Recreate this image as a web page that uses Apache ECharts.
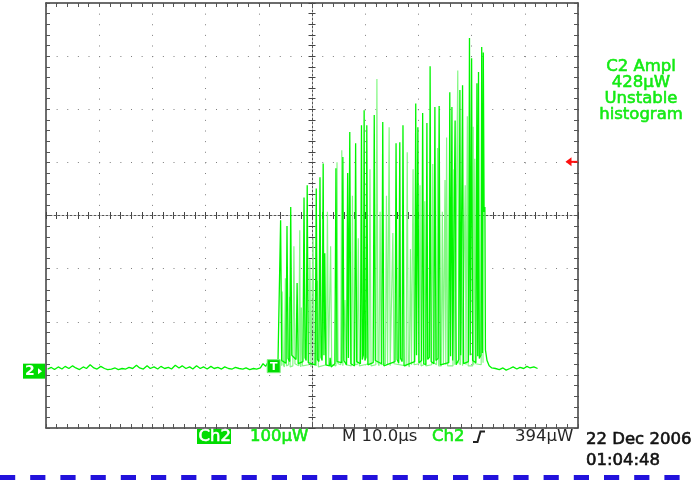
<!DOCTYPE html>
<html><head><meta charset="utf-8">
<script src="https://cdn.jsdelivr.net/npm/echarts@6/dist/echarts.min.js"></script>
<style>html,body{margin:0;padding:0;background:#fff;}#c{width:694px;height:480px;}</style>
</head><body><div id="c"></div>
<script>
// ---- scope settings ----
const timePerDiv = 10;          // µs / div  (M 10.0µs)
const powerPerDiv = 100;        // µW / div  (Ch2 100µW)
const groundOffset = -293;      // ground marker position, in µW from screen centre
const triggerLevel = 394;       // µW
const triggerTime = 42.8;       // µs from left edge
const readoutLines = ['C2 Ampl', '428\u00b5W', 'Unstable', 'histogram'];
const statusItems = ['Ch2', '100\u00b5W', 'M 10.0\u00b5s', 'Ch2', '394\u00b5W'];
const dateLines = ['22 Dec 2006', '01:04:48'];

// ---- trace: [time µs, power µW] ----
const baselineBefore = [[0.3,4],[1.0,7],[1.6,3],[2.3,8],[3.0,4],[3.6,9],[4.3,5],[5.0,10],[5.6,6],[6.3,3],[7.0,8],[7.6,5],[8.3,12],[9.0,6],[9.6,4],[10.3,9],[11.0,5],[11.6,3],[12.3,4],[13.0,6],[13.6,3],[14.3,5],[15.0,4],[15.6,7],[16.3,5],[17.0,11],[17.6,6],[18.3,4],[19.0,10],[19.6,5],[20.3,8],[21.0,4],[21.6,9],[22.3,5],[23.0,7],[23.6,4],[24.3,11],[25.0,6],[25.6,10],[26.3,5],[27.0,8],[27.6,4],[28.3,10],[29.0,5],[29.6,8],[30.3,4],[31.0,9],[31.6,5],[32.3,7],[33.0,4],[33.6,8],[34.3,5],[35.0,4],[35.6,7],[36.3,5],[37.0,4],[37.6,6],[38.3,3],[39.0,5],[39.6,4],[40.3,6],[40.8,14],[41.3,9],[41.8,18],[42.3,12],[43.0,15],[43.6,14]];
const pulsesBright = [[43.9,12],[44.1,284],[44.3,20],[45.1,15],[45.3,273],[45.5,24],[45.8,18],[46.0,309],[46.2,30],[47.0,22],[47.2,166],[47.4,14],[48.3,18],[48.5,327],[48.7,25],[48.9,20],[49.1,350],[49.3,16],[50.6,12],[50.8,344],[51.0,22],[51.3,18],[51.5,365],[51.7,26],[51.9,20],[52.1,391],[52.25,30],[52.4,222],[52.6,12],[53.3,10],[53.4,25],[53.6,8],[54.3,14],[54.5,382],[54.7,18],[55.6,16],[55.8,403],[56.0,20],[56.5,12],[56.7,373],[56.85,25],[57.1,450],[57.3,14],[58.0,10],[58.2,429],[58.4,18],[59.1,14],[59.3,463],[59.45,22],[59.65,30],[59.8,491],[59.95,20],[60.15,26],[60.3,463],[60.5,12],[61.5,16],[61.7,482],[61.9,20],[63.1,14],[63.3,469],[63.5,10],[65.6,18],[65.8,429],[66.0,22],[66.3,15],[66.5,431],[66.65,24],[66.95,18],[67.1,463],[67.3,10],[69.3,18],[69.5,504],[69.65,30],[69.9,459],[70.1,16],[70.6,20],[70.8,486],[71.0,14],[71.4,12],[71.6,467],[71.75,22],[72.05,26],[72.2,574],[72.4,18],[72.9,14],[73.1,497],[73.3,20],[73.7,24],[73.9,499],[74.1,12],[75.7,16],[75.9,525],[76.05,28],[76.3,497],[76.45,20],[76.75,18],[76.9,472],[77.1,12],[77.6,22],[77.8,529],[77.95,30],[78.3,538],[78.5,14],[79.4,18],[79.6,627],[79.75,30],[80.0,589],[80.2,20],[80.8,16],[81.0,542],[81.15,28],[81.3,563],[81.45,24],[81.75,30],[81.9,610],[82.05,34],[82.2,600],[82.35,300],[82.5,309],[82.6,40],[82.9,20],[83.3,10],[83.8,6],[84.5,5]];
const baselineAfter = [[85.2,3],[85.9,6],[86.5,2],[87.2,5],[87.8,8],[88.5,4],[89.1,7],[89.8,5],[90.4,9],[91.0,6],[91.7,8],[92.4,5]];
const pulsesPersist = [[44.3,10],[44.4,150],[44.6,12],[44.8,8],[45.0,175],[45.2,10],[45.6,12],[45.8,140],[45.9,8],[46.4,10],[46.6,235],[46.8,14],[47.5,10],[47.7,265],[47.8,12],[47.9,8],[48.0,120],[48.2,10],[49.4,12],[49.6,210],[49.8,8],[50.0,10],[50.2,250],[50.4,14],[50.8,10],[51.0,170],[51.2,8],[52.7,12],[52.9,300],[53.1,10],[53.3,8],[53.5,235],[53.7,12],[54.5,10],[54.7,393],[54.9,14],[55.4,12],[55.6,416],[55.8,10],[56.0,8],[56.2,134],[56.4,12],[57.4,10],[57.6,330],[57.8,14],[58.5,12],[58.7,250],[58.9,10],[60.7,14],[60.9,380],[61.1,10],[62.0,12],[62.2,550],[62.4,16],[62.6,10],[62.8,300],[63.0,12],[63.8,14],[64.0,330],[64.2,12],[64.3,14],[64.5,459],[64.7,10],[65.0,12],[65.2,260],[65.4,14],[67.7,10],[67.9,412],[68.1,12],[68.3,8],[68.5,230],[68.7,12],[68.8,10],[69.0,380],[69.2,12],[70.1,14],[70.3,350],[70.5,10],[71.0,12],[71.2,320],[71.4,10],[72.5,12],[72.7,390],[72.9,16],[73.4,12],[73.6,420],[73.8,10],[74.3,10],[74.5,300],[74.7,12],[74.8,10],[75.0,360],[75.15,12],[75.2,14],[75.3,440],[75.5,10],[76.5,10],[76.7,380],[76.85,12],[77.2,12],[77.4,566],[77.6,16],[77.9,12],[78.1,300],[78.3,10],[78.6,10],[78.8,350],[78.95,12],[79.0,14],[79.2,480],[79.35,10],[80.2,10],[80.3,460],[80.4,12],[80.45,12],[80.6,400],[80.75,14],[81.8,12],[82.0,450],[82.15,16]];

const toScreen = arr => arr.map(p => [p[0], p[1] + groundOffset]);
const brightTrace = toScreen(baselineBefore.concat(pulsesBright, baselineAfter));
const persistTrace = toScreen(pulsesPersist);

const chart = echarts.init(document.getElementById('c'), null, {renderer: 'canvas'});
const FRAME = '#3c3c3c', TICK = '#555', DOT = '#7e7e7e';
const dotPattern = [1, 9.625];

function xAx(pos, opts) {
  return Object.assign({
    type: 'value', min: 0, max: 10 * timePerDiv, interval: timePerDiv, position: pos,
    axisLine: {show: true, onZero: false, lineStyle: {color: FRAME, width: 1.5}},
    axisTick: {show: true, inside: true, length: 4, lineStyle: {color: TICK}},
    minorTick: {show: true, splitNumber: 5, length: 4, lineStyle: {color: TICK}},
    axisLabel: {show: false}, splitLine: {show: false}, minorSplitLine: {show: false}
  }, opts || {});
}
function yAx(pos, opts) {
  return Object.assign({
    type: 'value', min: -4 * powerPerDiv, max: 4 * powerPerDiv, interval: powerPerDiv, position: pos,
    axisLine: {show: true, onZero: false, lineStyle: {color: FRAME, width: 1.5}},
    axisTick: {show: true, inside: true, length: 4, lineStyle: {color: TICK}},
    minorTick: {show: true, splitNumber: 5, length: 4, lineStyle: {color: TICK}},
    axisLabel: {show: false}, splitLine: {show: false}, minorSplitLine: {show: false}
  }, opts || {});
}
const centreLine = {show: true, onZero: false, lineStyle: {color: '#555', width: 1, type: [2, 2]}};
const noLine = {show: false, onZero: false};
const cTick = {show: true, length: 3.5, lineStyle: {color: '#444'}};

const option = {
  animation: false,
  backgroundColor: '#fff',
  grid: {left: 46, top: 3, width: 532, height: 425, show: false},
  xAxis: [
    xAx('bottom', {splitLine: {show: true, lineStyle: {color: DOT, width: 1, type: dotPattern}}}),
    xAx('top'),
    xAx('bottom', {offset: -212.5, axisLine: centreLine, axisTick: Object.assign({inside: true}, cTick), minorTick: Object.assign({splitNumber: 5}, cTick)}),
    xAx('bottom', {offset: -212.5, axisLine: noLine, axisTick: Object.assign({inside: false}, cTick), minorTick: Object.assign({splitNumber: 5}, cTick)})
  ],
  yAxis: [
    yAx('left', {splitLine: {show: true, lineStyle: {color: DOT, width: 1, type: dotPattern}}}),
    yAx('right'),
    yAx('left', {offset: -266, axisLine: centreLine, axisTick: Object.assign({inside: true}, cTick), minorTick: Object.assign({splitNumber: 5}, cTick)}),
    yAx('left', {offset: -266, axisLine: noLine, axisTick: Object.assign({inside: false}, cTick), minorTick: Object.assign({splitNumber: 5}, cTick)})
  ],
  series: [
    {name: 'persist', type: 'line', xAxisIndex: 0, yAxisIndex: 0, data: persistTrace, symbol: 'none', silent: true,
     lineStyle: {color: '#84f884', width: 1.2}, z: 3},
    {name: 'Ch2', type: 'line', xAxisIndex: 0, yAxisIndex: 0, data: brightTrace, symbol: 'none', silent: true,
     lineStyle: {color: '#00f500', width: 1.3}, z: 4}
  ]
};
chart.setOption(option);

const gY = chart.convertToPixel({yAxisIndex: 0}, groundOffset);
const lvY = chart.convertToPixel({yAxisIndex: 0}, triggerLevel + groundOffset);
const tX = chart.convertToPixel({xAxisIndex: 0}, triggerTime);
const rightX = chart.convertToPixel({xAxisIndex: 0}, 10 * timePerDiv);
const FONT = '16.5px "DejaVu Sans", Verdana, sans-serif';
const GREEN = '#14ea14', BOX = '#00dc00', DARK = '#262626';

function txt(s, x, y, fill, align, font, stroke) {
  return {type: 'text', x: x, y: y, z: 50, silent: true,
    style: {text: s, fill: fill, font: font || FONT, align: align || 'left', textAlign: align || 'left',
      verticalAlign: 'middle', textVerticalAlign: 'middle',
      stroke: stroke === false ? null : fill, lineWidth: stroke === false ? 0 : 0.6}};
}

const g = [];
// ground marker
g.push({type: 'rect', z: 40, shape: {x: 23, y: gY - 7.5, width: 22, height: 15}, style: {fill: BOX}});
g.push(txt('2', 25, gY + 0.5, '#fff', 'left', 'bold 14px "DejaVu Sans", sans-serif', false));
g.push({type: 'polygon', z: 50, shape: {points: [[38, gY - 3], [42, gY], [38, gY + 3]]}, style: {fill: '#fff'}});
// trigger position marker
g.push({type: 'rect', z: 40, shape: {x: tX - 6.5, y: gY - 11.5, width: 13, height: 13}, style: {fill: BOX, stroke: '#7df07d', lineWidth: 1}});
g.push(txt('T', tX, gY - 4.5, '#fff', 'center', 'bold 11px "DejaVu Sans", sans-serif', false));
// trigger level arrow
g.push({type: 'polygon', z: 50, shape: {points: [[rightX - 12.5, lvY], [rightX - 6.5, lvY - 4.5], [rightX - 6.5, lvY + 4.5]]}, style: {fill: '#ff1010'}});
g.push({type: 'line', z: 50, shape: {x1: rightX - 8, y1: lvY, x2: rightX - 0.5, y2: lvY}, style: {stroke: '#ff1010', lineWidth: 2}});
// measurement readout
readoutLines.forEach((s, i) => g.push(txt(s, 641, 66.5 + i * 16, GREEN, 'center')));
// status line
g.push({type: 'rect', z: 40, shape: {x: 197, y: 429, width: 34, height: 15}, style: {fill: BOX}});
g.push(txt(statusItems[0], 198.5, 437, '#fff'));
g.push(txt(statusItems[1], 250, 437, GREEN));
g.push(txt(statusItems[2], 342, 437, DARK, 'left', null, false));
g.push(txt(statusItems[3], 432, 437, GREEN));
g.push({type: 'polyline', z: 50, shape: {points: [[473, 442], [477.5, 442], [480.5, 431.5], [485, 431.5]]}, style: {stroke: '#222', lineWidth: 2, fill: null}});
g.push(txt(statusItems[4], 515, 437, DARK, 'left', null, false));
g.push(txt(dateLines[0], 586, 440, '#111', 'left', null));
g.push(txt(dateLines[1], 586, 460.5, '#111', 'left', null));
// blue dashed rule
g.push({type: 'line', z: 40, shape: {x1: 0, y1: 477.5, x2: 694, y2: 477.5}, style: {stroke: '#2212dc', lineWidth: 5, lineDash: [15.2, 15]}});

chart.setOption({graphic: {elements: g}});
</script>
</body></html>
